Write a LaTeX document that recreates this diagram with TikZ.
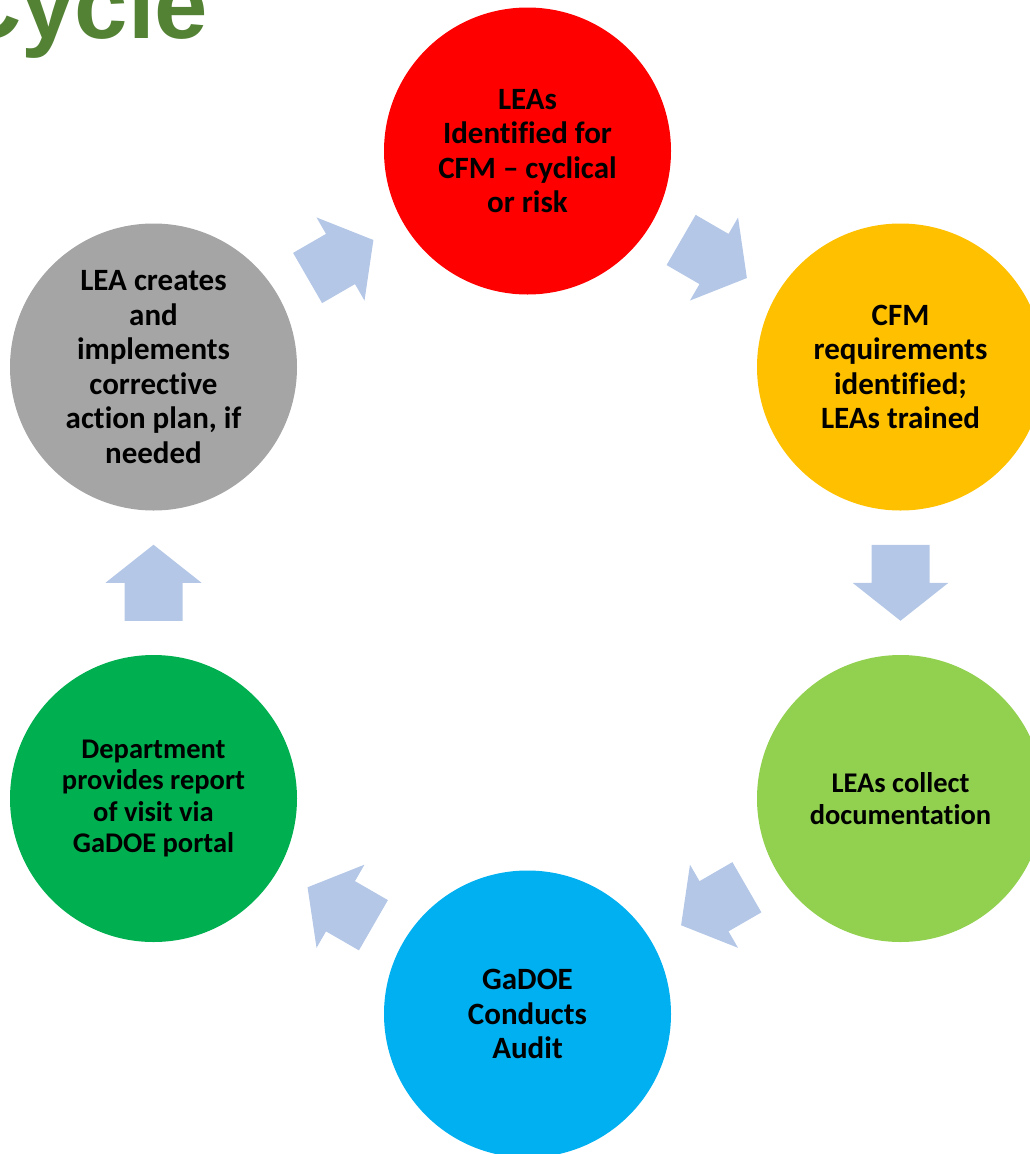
\documentclass[tikz,border=0pt]{standalone}
\usepackage{fontspec}
\setmainfont{Carlito}[Ligatures=CommonOff]
\newfontfamily\titlefont{Liberation Sans}
\usepackage{tikz}
\usetikzlibrary{calc}
\usepackage{xcolor}
\definecolor{titlegreen}{RGB}{84,130,53}
\definecolor{arrowblue}{RGB}{180,199,231}
\definecolor{stagered}{RGB}{255,0,0}
\definecolor{stageyellow}{RGB}{255,192,0}
\definecolor{stagelime}{RGB}{146,208,80}
\definecolor{stageblue}{RGB}{0,176,240}
\definecolor{stagegreen}{RGB}{0,176,80}
\definecolor{stagegray}{RGB}{165,165,165}
\newcommand{\cyclearrow}[2]{\coordinate (m) at ($(#1)!0.5!(#2)$);
	\coordinate (tl) at ($(m)!-38pt!(#2)$);
	\coordinate (tp) at ($(m)!38pt!(#2)$);
	\fill[arrowblue] ($(tl)!29pt!90:(#2)$) -- ($(m)!29pt!90:(#2)$) -- ($(m)!48pt!90:(#2)$) -- (tp) -- ($(m)!48pt!-90:(#2)$) -- ($(m)!29pt!-90:(#2)$) -- ($(tl)!29pt!-90:(#2)$) -- cycle;}
\tikzset{stage/.style={circle,minimum size=287pt,inner sep=0pt,align=center,text=black,font=\fontsize{31}{34.5}\selectfont\bfseries},
	smallstage/.style={stage,font=\fontsize{28.5}{31.5}\selectfont\bfseries}}

\begin{document}
\begin{tikzpicture}[x=1pt,y=-1pt]

		\useasboundingbox (0,0) rectangle (1030,1154);
		\coordinate (O) at (0,0);

    \node[anchor=base east,inner sep=0pt,text=titlegreen,font=\titlefont\bfseries\fontsize{96}{96}\selectfont] (title) at ($(O)+(208.5,38)$) {Cycle};

    \node[stage,fill=stagered] (ident) at ($(O)+(527.5,151)$) {LEAs\\Identified for\\CFM -- cyclical\\or risk};
    \node[stage,fill=stageyellow] (train) at ($(O)+(900.5,367)$) {CFM\\requirements\\identified;\\LEAs trained};
    \node[smallstage,fill=stagelime] (collect) at ($(O)+(900.5,798.5)$) {LEAs collect\\documentation};
    \node[stage,fill=stageblue] (audit) at ($(O)+(527.5,1014)$) {GaDOE\\Conducts\\Audit};
    \node[smallstage,fill=stagegreen] (report) at ($(O)+(153.5,798.5)$) {Department\\provides report\\of visit via\\GaDOE portal};
    \node[stage,fill=stagegray] (plan) at ($(O)+(153.5,367)$) {LEA creates\\and\\implements\\corrective\\action plan, if\\needed};

    \cyclearrow{ident}{train}
    \cyclearrow{train}{collect}
    \cyclearrow{collect}{audit}
    \cyclearrow{audit}{report}
    \cyclearrow{report}{plan}
    \cyclearrow{plan}{ident}

    \end{tikzpicture}
\end{document}
